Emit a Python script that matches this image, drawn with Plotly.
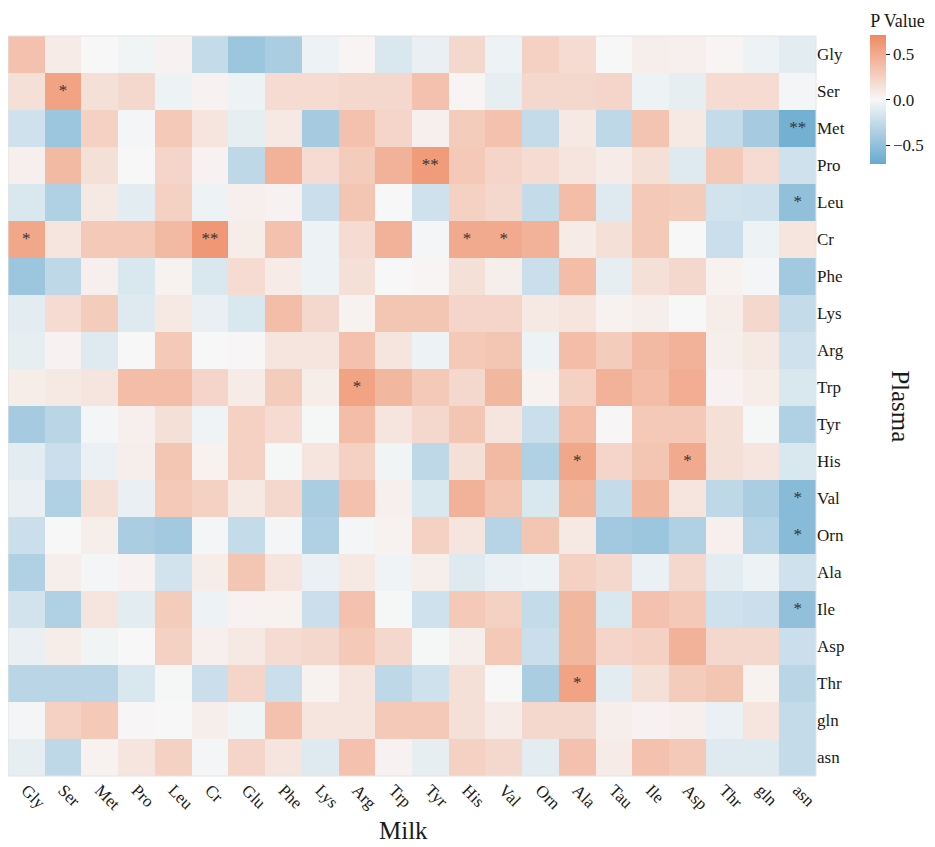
import plotly.graph_objects as go

# Milk amino acids (columns) vs plasma amino acids (rows)
milk = ["Gly", "Ser", "Met", "Pro", "Leu", "Cr", "Glu", "Phe", "Lys", "Arg", "Trp",
        "Tyr", "His", "Val", "Orn", "Ala", "Tau", "Ile", "Asp", "Thr", "gln", "asn"]
plasma = ["Gly", "Ser", "Met", "Pro", "Leu", "Cr", "Phe", "Lys", "Arg", "Trp", "Tyr",
          "His", "Val", "Orn", "Ala", "Ile", "Asp", "Thr", "gln", "asn"]

# correlation values, one list per plasma row
r_gly = [0.35, 0.08, 0.0, -0.03, 0.03, -0.25, -0.45, -0.38, -0.05, 0.02, -0.15, -0.07, 0.2, -0.05, 0.25, 0.18, 0.0, 0.06, 0.05, 0.02, -0.05, -0.1]
r_ser = [0.15, 0.55, 0.15, 0.2, -0.05, 0.03, -0.05, 0.18, 0.18, 0.2, 0.2, 0.35, 0.02, -0.08, 0.2, 0.2, 0.22, -0.05, -0.08, 0.18, 0.18, -0.02]
r_met = [-0.2, -0.45, 0.25, -0.02, 0.3, 0.12, -0.08, 0.1, -0.4, 0.35, 0.22, 0.05, 0.28, 0.35, -0.25, 0.1, -0.28, 0.33, 0.1, -0.25, -0.4, -0.65]
r_pro = [0.05, 0.4, 0.15, 0.0, 0.22, 0.03, -0.28, 0.45, 0.18, 0.28, 0.45, 0.6, 0.3, 0.22, 0.18, 0.12, 0.08, 0.15, -0.12, 0.3, 0.18, -0.2]
r_leu = [-0.15, -0.35, 0.1, -0.1, 0.25, -0.05, 0.05, 0.03, -0.22, 0.32, 0.0, -0.2, 0.25, 0.2, -0.25, 0.38, -0.12, 0.3, 0.28, -0.18, -0.2, -0.5]
r_cr = [0.52, 0.12, 0.3, 0.3, 0.4, 0.62, 0.07, 0.35, -0.05, 0.18, 0.45, -0.02, 0.5, 0.5, 0.45, 0.08, 0.15, 0.3, 0.0, -0.22, -0.05, 0.12]
r_phe = [-0.45, -0.28, 0.05, -0.15, 0.04, -0.15, 0.18, 0.08, -0.05, 0.15, 0.0, 0.02, 0.15, 0.06, -0.22, 0.38, -0.08, 0.15, 0.2, 0.04, -0.02, -0.42]
r_lys = [-0.1, 0.18, 0.28, -0.12, 0.1, -0.07, -0.15, 0.38, 0.2, 0.04, 0.32, 0.32, 0.22, 0.22, 0.1, 0.12, 0.04, 0.06, 0.0, 0.07, 0.2, -0.25]
r_arg = [-0.08, 0.03, -0.12, 0.0, 0.3, 0.0, 0.01, 0.12, 0.12, 0.35, 0.12, -0.05, 0.3, 0.32, -0.05, 0.38, 0.28, 0.4, 0.45, 0.06, 0.1, -0.2]
r_trp = [0.07, 0.1, 0.12, 0.38, 0.38, 0.22, 0.08, 0.28, 0.07, 0.55, 0.42, 0.3, 0.2, 0.42, 0.04, 0.25, 0.45, 0.38, 0.48, 0.03, 0.07, -0.15]
r_tyr = [-0.4, -0.3, -0.02, 0.05, 0.15, -0.04, 0.25, 0.18, -0.01, 0.38, 0.12, 0.2, 0.32, 0.12, -0.22, 0.38, 0.01, 0.3, 0.3, 0.15, -0.01, -0.35]
r_his = [-0.1, -0.22, -0.06, 0.06, 0.32, 0.04, 0.25, -0.01, 0.12, 0.25, -0.03, -0.28, 0.15, 0.4, -0.35, 0.52, 0.22, 0.32, 0.5, 0.15, 0.12, -0.15]
r_val = [-0.07, -0.35, 0.15, -0.07, 0.3, 0.25, 0.1, 0.2, -0.38, 0.35, 0.05, -0.15, 0.45, 0.32, -0.15, 0.42, -0.25, 0.42, 0.12, -0.28, -0.38, -0.55]
r_orn = [-0.22, 0.0, 0.06, -0.38, -0.42, -0.02, -0.25, -0.02, -0.35, -0.02, 0.04, 0.25, 0.12, -0.32, 0.32, 0.1, -0.42, -0.45, -0.35, 0.05, -0.32, -0.55]
r_ala = [-0.35, 0.06, -0.02, 0.03, -0.18, 0.07, 0.32, 0.12, -0.06, 0.1, -0.04, 0.06, -0.12, -0.06, -0.05, 0.25, 0.2, -0.06, 0.2, -0.1, -0.05, -0.2]
r_ile = [-0.18, -0.35, 0.12, -0.1, 0.28, -0.05, 0.03, 0.04, -0.22, 0.35, -0.01, -0.2, 0.3, 0.25, -0.25, 0.42, -0.15, 0.35, 0.3, -0.2, -0.22, -0.5]
r_asp = [-0.07, 0.07, -0.03, 0.0, 0.25, 0.05, 0.1, 0.18, 0.2, 0.3, 0.2, -0.01, 0.06, 0.3, -0.22, 0.42, 0.22, 0.25, 0.45, 0.2, 0.2, -0.22]
r_thr = [-0.3, -0.3, -0.3, -0.15, -0.01, -0.22, 0.22, -0.22, 0.04, 0.12, -0.28, -0.2, 0.15, 0.0, -0.38, 0.55, -0.1, 0.15, 0.28, 0.32, 0.04, -0.3]
r_gln = [-0.02, 0.25, 0.3, 0.01, 0.0, 0.06, -0.03, 0.35, 0.12, 0.12, 0.3, 0.3, 0.15, 0.08, 0.2, 0.2, 0.06, 0.03, 0.05, -0.06, 0.12, -0.25]
r_asn = [-0.08, -0.28, 0.04, 0.12, 0.25, -0.02, 0.22, 0.12, -0.12, 0.35, 0.03, -0.08, 0.25, 0.2, -0.1, 0.35, 0.08, 0.35, 0.3, -0.12, -0.12, -0.25]

z = [r_gly, r_ser, r_met, r_pro, r_leu, r_cr, r_phe, r_lys, r_arg, r_trp,
     r_tyr, r_his, r_val, r_orn, r_ala, r_ile, r_asp, r_thr, r_gln, r_asn]

# significance marks: (plasma row, milk column, label)
sig_rows = ["Ser", "Met", "Pro", "Leu", "Cr", "Cr", "Cr", "Cr", "Trp", "His", "His", "Val", "Orn", "Ile", "Thr"]
sig_cols = ["Ser", "asn", "Tyr", "asn", "Gly", "Cr", "His", "Val", "Arg", "Ala", "Asp", "asn", "asn", "asn", "Ala"]
sig_text = ["*", "**", "**", "*", "*", "**", "*", "*", "*", "*", "*", "*", "*", "*", "*"]

FONT = "'Liberation Serif', 'Times New Roman', serif"
TXT = "#1a1a1a"

fig = go.Figure()

fig.add_trace(go.Heatmap(
    z=z, x=milk, y=plasma,
    zmin=-0.71, zmax=0.71,
    colorscale=[[0, "#67A9CF"], [0.5, "#F7F7F7"], [1, "#EF8A62"]],
    xgap=0, ygap=0,
    colorbar=dict(
        title=dict(text="P Value", side="top", font=dict(family=FONT, size=18, color=TXT)),
        x=1.067, xanchor="left", xpad=0,
        y=1.035, yanchor="top", ypad=0,
        len=0.208, lenmode="fraction",
        thickness=16,
        outlinewidth=0,
        tickvals=[-0.5, 0, 0.5],
        tickformat=".1f",
        ticks="outside", ticklen=4, tickcolor=TXT,
        tickfont=dict(family=FONT, size=17, color=TXT),
    ),
))

fig.add_trace(go.Scatter(
    x=sig_cols, y=sig_rows, text=sig_text,
    mode="text", textposition="middle center",
    textfont=dict(family=FONT, size=17, color="#333333"),
    showlegend=False, hoverinfo="skip",
))

fig.update_xaxes(
    type="category", categoryorder="array", categoryarray=milk,
    range=[-0.5, len(milk) - 0.5],
    tickangle=45, ticks="", showgrid=False, zeroline=False, automargin=False,
    tickfont=dict(family=FONT, size=17, color=TXT),
)
fig.update_yaxes(
    type="category", categoryorder="array", categoryarray=plasma,
    range=[len(plasma) - 0.5, -0.5],
    side="right", ticks="", showgrid=False, zeroline=False, automargin=False,
    tickfont=dict(family=FONT, size=17, color=TXT),
)

# faint frame round the grid
fig.add_shape(type="rect", xref="paper", yref="paper", x0=0, x1=1, y0=0, y1=1,
              line=dict(color="#e4e4e4", width=1))

fig.add_annotation(text="Milk", xref="paper", yref="paper", x=0.49, y=-0.073,
                   xanchor="center", yanchor="middle", showarrow=False,
                   font=dict(family=FONT, size=25, color=TXT))
fig.add_annotation(text="Plasma", xref="paper", yref="paper", x=1.105, y=0.5,
                   xanchor="center", yanchor="middle", textangle=90, showarrow=False,
                   font=dict(family=FONT, size=25, color=TXT))

# page body adds 8px, so the figure is that much smaller than the window
fig.update_layout(
    width=927, height=839,
    margin=dict(l=0, r=119, t=28, b=71, autoexpand=False),
    plot_bgcolor="white", paper_bgcolor="white",
    showlegend=False,
)

fig.write_html("out.html")
